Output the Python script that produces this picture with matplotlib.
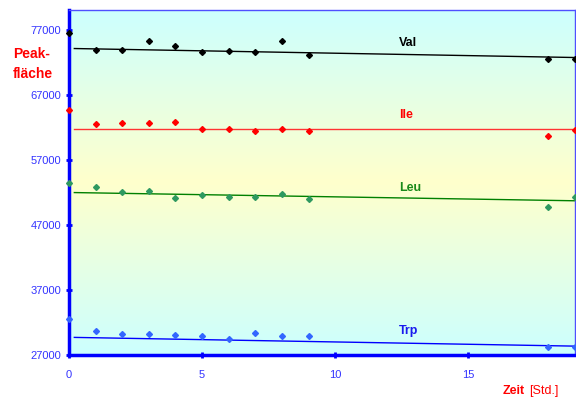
import numpy as np
import matplotlib
matplotlib.use("Agg")
import matplotlib.pyplot as plt
from matplotlib.colors import LinearSegmentedColormap

plt.rcParams["font.family"] = ["Liberation Sans", "DejaVu Sans"]

hours = [0, 1, 2, 3, 4, 5, 6, 7, 8, 9, 18, 19]

val = [76400, 73800, 73800, 75250, 74430, 73550, 73700, 73600, 75250, 73100, 72530, 72430]
ile = [64660, 62520, 62620, 62670, 62870, 61710, 61710, 61340, 61750, 61400, 60690, 61500]
leu = [53490, 52880, 52020, 52270, 51200, 51660, 51350, 51350, 51760, 51000, 49820, 51260]
trp = [32540, 30740, 30280, 30180, 30080, 29870, 29470, 30430, 29870, 29870, 28280, 28230]

# trend lines (start, end)
trend_x = [0.2, 19]
val_trend = [74080, 72700]
ile_trend = [61650, 61650]
leu_trend = [51960, 50700]
trp_trend = [29720, 28380]

series = [
    ("Val", val, val_trend, "black", "black", "black", 74900),
    ("Ile", ile, ile_trend, "#ff0000", "#ff3333", "#ff0000", 63850),
    ("Leu", leu, leu_trend, "#2e9960", "#008000", "#1a8a1a", 52600),
    ("Trp", trp, trp_trend, "#3366ff", "#0000ff", "#1a1aee", 30700),
]

fig = plt.figure(figsize=(5.76, 3.99), dpi=100)
ax = fig.add_axes([0.1198, 0.110, 0.878, 0.865])

ax.set_xlim(0, 19)
ax.set_ylim(27000, 80000)

# background gradient cyan -> yellow -> cyan
grad_cmap = LinearSegmentedColormap.from_list("bg", ["#ccffff", "#ffffcc", "#ccffff"])
grad = np.linspace(0, 1, 256).reshape(-1, 1)
ax.imshow(grad, cmap=grad_cmap, aspect="auto", extent=[0, 19, 27000, 80000],
          origin="lower", zorder=0)

for name, values, trend, mcolor, lcolor, tcolor, label_y in series:
    ax.plot(trend_x, trend, color=lcolor, linewidth=1.0, zorder=2)
    ax.plot(hours, values, linestyle="none", marker="D", markersize=3.0,
            color=mcolor, zorder=3, clip_on=False)
    ax.text(12.4, label_y, name, color=tcolor, fontsize=9, fontweight="bold",
            ha="left", va="center")

ax.set_yticks(np.arange(27000, 77001, 10000))
ax.set_xticks([0, 5, 10, 15])

blue = "#0000ff"
for side in ["left", "bottom"]:
    ax.spines[side].set_color(blue)
    ax.spines[side].set_linewidth(2.5)
for side in ["top", "right"]:
    ax.spines[side].set_color("#4f4fff")
    ax.spines[side].set_linewidth(1.0)

ax.tick_params(axis="y", colors=blue, labelcolor="#3333ff", labelsize=8,
               direction="inout", length=5, width=2, pad=3)
ax.tick_params(axis="x", colors=blue, labelcolor="#3333ff", labelsize=8,
               direction="inout", length=5, width=2, pad=8)

fig.text(0.022, 0.840, "Peak-\nfläche", color="#ff0000", fontsize=10,
         fontweight="bold", ha="left", va="center", linespacing=1.5)

fig.text(0.872, 0.004, "Zeit", color="#ff0000", fontsize=9, fontweight="bold",
         ha="left", va="bottom")
fig.text(0.918, 0.004, "[Std.]", color="#ff0000", fontsize=9,
         ha="left", va="bottom")

fig.savefig("out.png", dpi=100)
